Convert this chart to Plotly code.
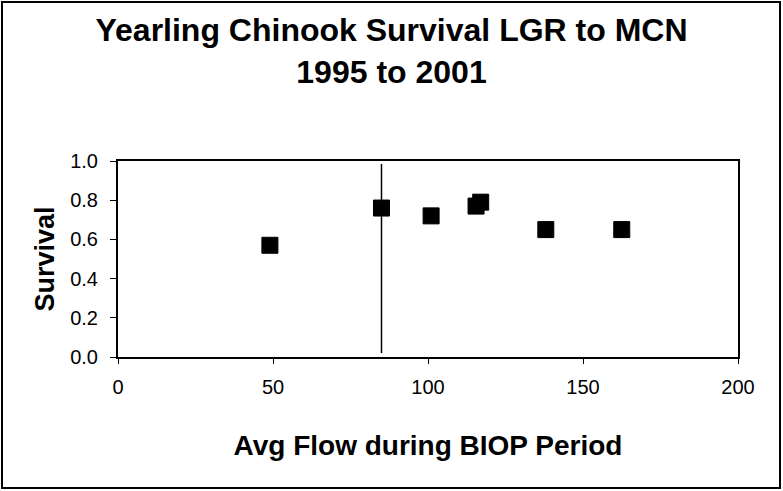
import plotly.graph_objects as go

# Data
avg_flow = [49, 85, 101, 115.5, 117, 138, 162.5]
survival = [0.57, 0.76, 0.72, 0.77, 0.79, 0.65, 0.65]
ref_flow = [85, 85]
ref_survival = [0.02, 0.985]
x_ticks = [0, 50, 100, 150, 200]
y_ticks = [0.0, 0.2, 0.4, 0.6, 0.8, 1.0]
y_tick_labels = ["0.0", "0.2", "0.4", "0.6", "0.8", "1.0"]

W, H = 783, 491
ML, MR, MT, MB = 118, 45, 161, 134
pw = W - ML - MR
ph = H - MT - MB

fig = go.Figure()
fig.add_trace(go.Scatter(
    x=ref_flow, y=ref_survival, mode="lines",
    line=dict(color="black", width=1.5), showlegend=False, hoverinfo="skip"))
fig.add_trace(go.Scatter(
    x=avg_flow, y=survival, mode="markers",
    marker=dict(symbol="square", size=16, color="black",
                line=dict(color="black", width=1)),
    showlegend=False))

font_family = "Liberation Sans, Arial, sans-serif"

fig.update_layout(
    width=W, height=H,
    margin=dict(l=ML, r=MR, t=MT, b=MB),
    paper_bgcolor="white", plot_bgcolor="white",
    font=dict(family=font_family, color="black"),
    title=dict(text="<b>Yearling Chinook Survival LGR to MCN<br>1995 to 2001</b>",
               x=0.5, xanchor="center", xref="container",
               y=1 - 41 / H, yanchor="middle", yref="container",
               font=dict(size=32, family=font_family, color="black")),
    xaxis=dict(range=[0, 200], tickvals=x_ticks, ticks="outside", ticklen=5,
               tickwidth=1, tickcolor="black", showline=True, linecolor="black",
               linewidth=2, mirror=True, showgrid=False, zeroline=False,
               tickfont=dict(size=20), ticklabelstandoff=6,
               title=dict(text="<b>Avg Flow during BIOP Period</b>",
                          font=dict(size=28), standoff=38)),
    yaxis=dict(range=[0, 1], tickvals=y_ticks, ticktext=y_tick_labels,
               ticks="outside", ticklen=6, tickwidth=1, tickcolor="black",
               showline=True, linecolor="black", linewidth=2, mirror=True,
               showgrid=False, zeroline=False,
               tickfont=dict(size=20), ticklabelstandoff=8,
               title=dict(text="<b>Survival</b>", font=dict(size=27), standoff=8)),
    shapes=[dict(type="rect", xref="paper", yref="paper",
                 x0=(2 - ML) / pw, x1=(780 - ML) / pw,
                 y0=(MT + ph - 488) / ph, y1=(MT + ph - 2) / ph,
                 line=dict(color="black", width=2), fillcolor="rgba(0,0,0,0)",
                 layer="below")],
)

fig.write_html("out.html",
               config={"displayModeBar": False},
               post_script="document.body.style.margin='0';document.body.style.overflow='hidden';")
